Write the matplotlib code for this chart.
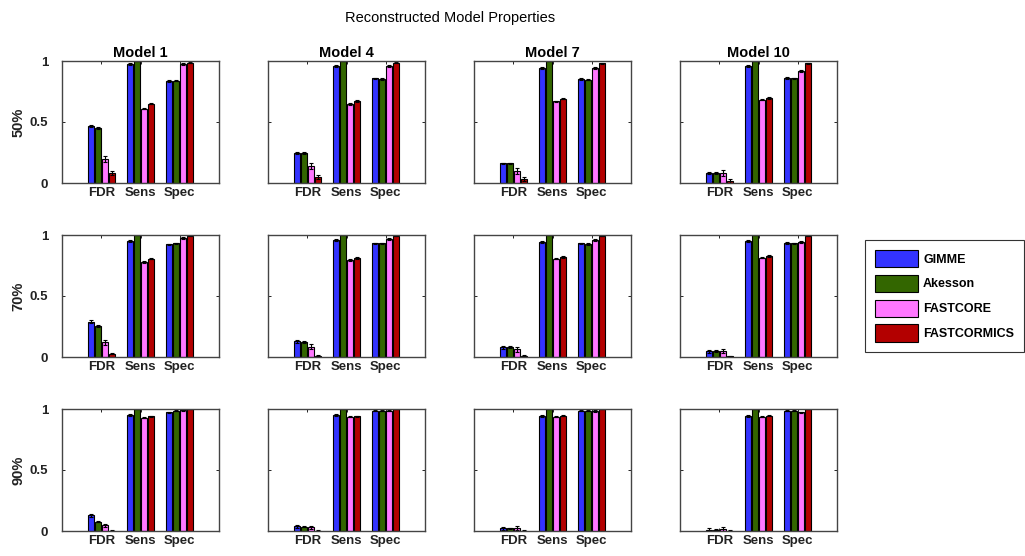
import numpy as np
import matplotlib.pyplot as plt
from matplotlib.patches import Patch

plt.rcParams['font.family'] = ['Liberation Sans', 'DejaVu Sans']

methods = ['GIMME', 'Akesson', 'FASTCORE', 'FASTCORMICS']
colors = ['#3333ff', '#336600', '#ff77ff', '#b30000']
metrics = ['FDR', 'Sens', 'Spec']
models = ['Model 1', 'Model 4', 'Model 7', 'Model 10']
levels = ['50%', '70%', '90%']

# mean values, rows = metric (FDR, Sens, Spec), cols = method
m1_50 = [[0.468, 0.452, 0.198, 0.083], [0.972, 1.0, 0.609, 0.650], [0.835, 0.840, 0.972, 0.986]]
m4_50 = [[0.245, 0.245, 0.138, 0.047], [0.961, 1.0, 0.647, 0.672], [0.857, 0.851, 0.956, 0.986]]
m7_50 = [[0.160, 0.160, 0.102, 0.033], [0.945, 1.0, 0.669, 0.691], [0.854, 0.848, 0.939, 0.981]]
m10_50 = [[0.085, 0.085, 0.080, 0.019], [0.956, 1.0, 0.683, 0.697], [0.862, 0.857, 0.915, 0.981]]

m1_70 = [[0.288, 0.255, 0.122, 0.027], [0.954, 1.0, 0.777, 0.807], [0.924, 0.932, 0.978, 0.995]]
m4_70 = [[0.128, 0.125, 0.084, 0.011], [0.959, 1.0, 0.796, 0.813], [0.932, 0.932, 0.965, 0.995]]
m7_70 = [[0.079, 0.079, 0.063, 0.008], [0.943, 1.0, 0.807, 0.821], [0.932, 0.927, 0.957, 0.992]]
m10_70 = [[0.046, 0.046, 0.049, 0.005], [0.948, 1.0, 0.815, 0.826], [0.935, 0.932, 0.940, 0.995]]

m1_90 = [[0.128, 0.076, 0.046, 0.003], [0.951, 1.0, 0.929, 0.940], [0.973, 0.984, 0.992, 0.998]]
m4_90 = [[0.038, 0.035, 0.030, 0.003], [0.951, 1.0, 0.935, 0.940], [0.984, 0.984, 0.986, 0.998]]
m7_90 = [[0.022, 0.022, 0.022, 0.003], [0.943, 1.0, 0.935, 0.943], [0.984, 0.984, 0.984, 0.998]]
m10_90 = [[0.011, 0.011, 0.016, 0.003], [0.943, 1.0, 0.937, 0.943], [0.984, 0.984, 0.973, 0.998]]

# standard errors
err_50 = [[0.008, 0.008, 0.025, 0.015], [0.008, 0.0, 0.006, 0.006], [0.006, 0.006, 0.008, 0.004]]
err_70 = [[0.012, 0.008, 0.020, 0.006], [0.008, 0.0, 0.006, 0.006], [0.005, 0.005, 0.008, 0.003]]
err_90 = [[0.012, 0.006, 0.015, 0.002], [0.005, 0.0, 0.004, 0.004], [0.004, 0.004, 0.005, 0.002]]

means = [[m1_50, m4_50, m7_50, m10_50],
         [m1_70, m4_70, m7_70, m10_70],
         [m1_90, m4_90, m7_90, m10_90]]
errs = [err_50, err_70, err_90]

fig = plt.figure(figsize=(10.25, 5.56), dpi=100)

W, H = 1025, 556
lefts = [62, 268, 474, 680]
tops = [61, 235, 409]
aw, ah = 157, 122

x = np.arange(1, 4)
bw = 0.15
step = 0.18

for r in range(3):
    for c in range(4):
        ax = fig.add_axes([lefts[c] / W, 1 - (tops[r] + ah) / H, aw / W, ah / H])
        vals = np.array(means[r][c])
        e = np.array(errs[r])
        for k in range(4):
            xs = x + (k - 1.5) * step
            ax.bar(xs, vals[:, k], bw, color=colors[k], edgecolor='black', linewidth=0.8,
                   yerr=e[:, k], error_kw=dict(ecolor='black', elinewidth=0.8, capsize=1.5, capthick=0.8))
        ax.set_xlim(0, 4)
        ax.set_ylim(0, 1)
        ax.set_xticks(x)
        ax.set_xticklabels(metrics, fontsize=9.5, fontweight='bold', color='#222222')
        ax.set_yticks([0, 0.5, 1])
        if c == 0:
            ax.set_yticklabels(['0', '0.5', '1'], fontsize=9.5, fontweight='bold', color='#222222')
            ax.set_ylabel(levels[r], fontsize=10.5, fontweight='bold', labelpad=3, color='#222222')
        else:
            ax.set_yticklabels([])
        ax.tick_params(axis='x', direction='in', top=True, length=2, width=0.6, pad=3)
        ax.tick_params(axis='y', direction='in', right=True, length=2, width=0.6, pad=10)
        for s in ax.spines.values():
            s.set_linewidth(1.0)
            s.set_color('#444444')
        if r == 0:
            ax.set_title(models[c], fontsize=10.5, fontweight='bold', pad=3)

fig.text(450 / W, 1 - 18 / H, 'Reconstructed Model Properties', ha='center', va='center', fontsize=10.5)

handles = [Patch(facecolor=col, edgecolor='black', linewidth=0.8) for col in colors]
leg = fig.legend(handles, methods, loc='upper left', bbox_to_anchor=(865 / W, 1 - 240 / H),
                 prop=dict(size=9, weight='bold'), handlelength=3.4, handleheight=1.75,
                 handletextpad=0.45, labelspacing=0.6, borderpad=0.8, borderaxespad=0,
                 fancybox=False, edgecolor='#333333', framealpha=1)
leg.get_frame().set_linewidth(0.8)

fig.savefig('out.png', dpi=100)
